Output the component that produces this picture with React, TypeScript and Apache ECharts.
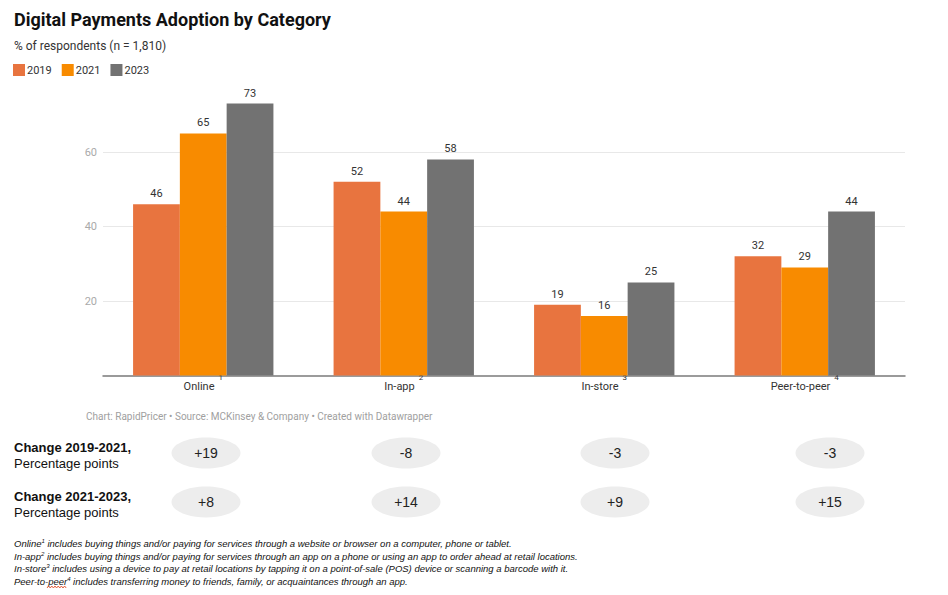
import React, { useEffect, useRef } from "react";
import * as echarts from "echarts";

// Survey categories and adoption share (% of respondents) per year
const categories = ["Online", "In-app", "In-store", "Peer-to-peer"];
const years = ["2019", "2021", "2023"];
const values2019 = [46, 52, 19, 32];
const values2021 = [65, 44, 16, 29];
const values2023 = [73, 58, 25, 44];
const yTicks = [0, 20, 40, 60, 80];

const footnotes = [
  ["Online", "1", " includes buying things and/or paying for services through a website or browser on a computer, phone or tablet."],
  ["In-app", "2", " includes buying things and/or paying for services through an app on a phone or using an app to order ahead at retail locations."],
  ["In-store", "3", " includes using a device to pay at retail locations by tapping it on a point-of-sale (POS) device or scanning a barcode with it."],
  ["Peer-to-peer", "4", " includes transferring money to friends, family, or acquaintances through an app."],
];

const COLORS = ["#E8743F", "#F88B00", "#727272"];
const ROBOTO = "Roboto, 'Noto Sans', sans-serif";
const ARIAL = "'Liberation Sans', Arial, sans-serif";

const fmtChange = (d: number) => (d > 0 ? `+${d}` : `${d}`);
const change1 = values2021.map((v, i) => v - values2019[i]);
const change2 = values2023.map((v, i) => v - values2021[i]);

export default function App() {
  const ref = useRef<HTMLDivElement>(null);

  useEffect(() => {
    if (!ref.current) return;
    const chart = echarts.init(ref.current, null, { renderer: "svg" });

    const pillX = [206, 406, 615, 830];
    const rows = [
      { label: "Change 2019-2021,", y: 453, data: change1 },
      { label: "Change 2021-2023,", y: 502, data: change2 },
    ];

    const graphics: any[] = [];
    rows.forEach((row) => {
      graphics.push({
        type: "text",
        left: 14,
        top: row.y - 12,
        style: { text: row.label, font: `bold 13px ${ARIAL}`, fill: "#111" },
      });
      graphics.push({
        type: "text",
        left: 14,
        top: row.y + 4,
        style: { text: "Percentage points", font: `13px ${ARIAL}`, fill: "#111" },
      });
      row.data.forEach((d, i) => {
        graphics.push({
          type: "ellipse",
          shape: { cx: pillX[i], cy: row.y, rx: 34.5, ry: 15.5 },
          style: { fill: "#EDEDED" },
        });
        graphics.push({
          type: "text",
          x: pillX[i],
          y: row.y,
          style: {
            text: fmtChange(d),
            font: `14px ${ARIAL}`,
            fill: "#222",
            align: "center",
            verticalAlign: "middle",
            textAlign: "center",
            textVerticalAlign: "middle",
          },
        });
      });
    });

    footnotes.forEach((f, i) => {
      graphics.push({
        type: "text",
        left: 14,
        top: 538 + i * 12.7,
        style: {
          text: `{n|${f[0]}}{s|${f[1]}}{n|${f[2]}}`,
          rich: {
            n: { font: `italic 9.5px ${ARIAL}`, fill: "#111", lineHeight: 11 },
            s: { font: `italic 6px ${ARIAL}`, fill: "#111", verticalAlign: "top", lineHeight: 11 },
          },
        },
      });
    });

    // spell-check squiggle beneath the second "peer"
    const sq: number[][] = [];
    for (let k = 0; k <= 12; k++) sq.push([47 + k * 1.6, k % 2 === 0 ? 588 : 586]);
    graphics.push({
      type: "polyline",
      shape: { points: sq },
      style: { stroke: "#E0502A", lineWidth: 0.9, fill: null },
    });

    graphics.push({
      type: "text",
      left: 86,
      top: 411,
      style: {
        text: "Chart: RapidPricer • Source: MCKinsey & Company • Created with Datawrapper",
        font: `10px ${ROBOTO}`,
        fill: "#A0A0A0",
      },
    });

    const seriesData = [values2019, values2021, values2023];

    chart.setOption({
      animation: false,
      backgroundColor: "#fff",
      title: {
        text: "Digital Payments Adoption by Category",
        subtext: "% of respondents (n = 1,810)",
        left: 9,
        top: 5,
        itemGap: 12,
        textStyle: { fontFamily: ROBOTO, fontSize: 18, fontWeight: "bold", color: "#111" },
        subtextStyle: { fontFamily: ROBOTO, fontSize: 12, color: "#333" },
      },
      legend: {
        data: years,
        left: 8,
        top: 59,
        icon: "rect",
        itemWidth: 12,
        itemHeight: 12,
        itemGap: 10,
        selectedMode: false,
        textStyle: { fontFamily: ROBOTO, fontSize: 11, color: "#333", padding: [0, 0, 0, -3] },
      },
      grid: { left: 103, right: 43, top: 77.5, bottom: 219.5, containLabel: false },
      xAxis: {
        type: "category",
        data: categories,
        axisLine: { lineStyle: { color: "#7a7a7a", width: 1.5 } },
        axisTick: { show: false },
        axisLabel: {
          margin: -2,
          formatter: (v: string, i: number) => `{c|${v}}{s|${i + 1}}`,
          rich: {
            c: { fontFamily: ROBOTO, fontSize: 11, color: "#333", lineHeight: 18, verticalAlign: "bottom" },
            s: { fontFamily: ROBOTO, fontSize: 8, color: "#333", verticalAlign: "top", lineHeight: 18, padding: [0, 0, 0, 4] },
          },
        },
      },
      yAxis: {
        type: "value",
        min: yTicks[0],
        max: yTicks[yTicks.length - 1],
        interval: 20,
        axisLine: { show: false },
        axisTick: { show: false },
        axisLabel: {
          margin: 6,
          fontFamily: ROBOTO,
          fontSize: 11,
          color: "#aaa",
          formatter: (v: number) => (v === 0 || v === 80 ? "" : `${v}`),
        },
        splitLine: {
          lineStyle: { color: ["transparent", "#e8e8e8", "#e8e8e8", "#e8e8e8", "transparent"], width: 1 },
        },
      },
      series: years.map((y, si) => ({
        name: y,
        type: "bar",
        data: seriesData[si],
        barGap: "0%",
        barCategoryGap: "30%",
        itemStyle: { color: COLORS[si] },
        label: {
          show: true,
          position: "top",
          distance: 5,
          fontFamily: ROBOTO,
          fontSize: 11,
          color: "#333",
        },
      })),
      graphic: graphics,
    });

    return () => chart.dispose();
  }, []);

  return (
    <div
      ref={ref}
      style={{ position: "fixed", left: 0, top: 0, width: 948, height: 595, background: "#fff" }}
    />
  );
}
